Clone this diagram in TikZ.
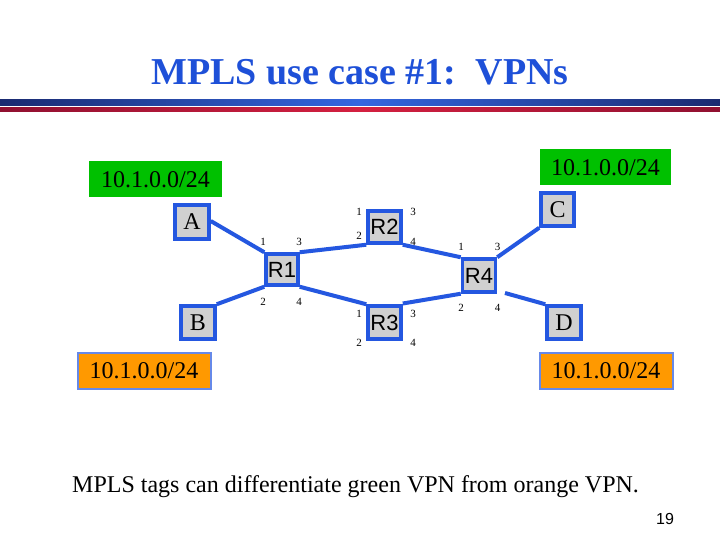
\documentclass[tikz,border=0pt]{standalone}
\usepackage{fontspec}
\setmainfont{Liberation Serif}
\newfontfamily\sansf{Liberation Sans}
\begin{document}
\begin{tikzpicture}[x=1pt,y=-1pt,
  box/.style={draw=netblue,line width=3.5pt,fill=boxgray,inner sep=0pt,font=\fontsize{24}{26}\selectfont},
  rbox/.style={box,font=\sansf\fontsize{22}{24}\selectfont},
  lnk/.style={draw=netblue,line width=4pt},
  port/.style={font=\fontsize{11}{12}\selectfont,inner sep=0pt},
  net/.style={inner sep=0pt,font=\fontsize{24}{26}\selectfont,minimum height=36pt}]
\definecolor{netblue}{HTML}{2457E0}
\definecolor{boxgray}{HTML}{D0D0D0}
\definecolor{gnet}{HTML}{00C000}
\definecolor{onet}{HTML}{FF9900}
\definecolor{titlec}{HTML}{1E50D8}
\definecolor{navy}{HTML}{1A2A70}
\definecolor{brblue}{HTML}{3366E0}
\definecolor{dred}{HTML}{901030}
\definecolor{brred}{HTML}{D42040}
\useasboundingbox (0,0) rectangle (720,540);
\fill[white] (0,0) rectangle (720,540);
\node[font=\bfseries\fontsize{38}{42}\selectfont,text=titlec] (title) at (360,72) {MPLS use case \#1:\ \ VPNs};
\shade[left color=navy,right color=brblue] (0,100) rectangle (360,106);
\shade[left color=brblue,right color=navy] (360,100) rectangle (720,106);
\shade[left color=dred,right color=brred] (0,108) rectangle (360,112);
\shade[left color=brred,right color=dred] (360,108) rectangle (720,112);
% networks
\node[net,fill=gnet,minimum width=133pt] (g1) at (155.5,179.5) {10.1.0.0/24};
\node[net,fill=gnet,minimum width=131pt] (g2) at (605.5,167.5) {10.1.0.0/24};
\node[net,fill=onet,draw=netblue!70,line width=2pt,minimum width=133pt] (o1) at (144,370.5) {10.1.0.0/24};
\node[net,fill=onet,draw=netblue!70,line width=2pt,minimum width=133pt] (o2) at (606,370.5) {10.1.0.0/24};
% boxes
\node[box,minimum width=34pt,minimum height=34pt] (A) at (192,222) {A};
\node[box,minimum width=34pt,minimum height=33pt] (B) at (198,322.5) {B};
\node[box,minimum width=33pt,minimum height=33pt] (C) at (557.5,209.5) {C};
\node[box,minimum width=34pt,minimum height=33pt] (D) at (564,322.5) {D};
\node[rbox,minimum width=32pt,minimum height=31pt] (R1) at (282,269.5) {R1};
\node[rbox,minimum width=33pt,minimum height=32pt] (R2) at (384.5,227) {R2};
\node[rbox,minimum width=33pt,minimum height=33pt] (R3) at (384.5,322.5) {R3};
\node[rbox,minimum width=33pt,minimum height=33pt] (R4) at (479,275.5) {R4};
% links
\coordinate (d0) at (505,293);
\draw[lnk] (A.east) ++(0,-1) -- (R1.north west);
\draw[lnk] (R1.south west) -- (B.north east);
\draw[lnk] (R1.north east) -- (R2.south west);
\draw[lnk] (R1.south east) -- (R3.north west);
\draw[lnk] (R2.south east) -- (R4.north west);
\draw[lnk] (R3.east) ++(0,-19) -- (R4.south west);
\draw[lnk] (R4.north east) -- (C.south west);
\draw[lnk] (d0) -- (D.north west);
% ports
\node[port] (p11) at (263,242) {1};
\node[port] (p13) at (299,242) {3};
\node[port] (p12) at (263,302) {2};
\node[port] (p14) at (299,302) {4};
\node[port] (p21) at (359,212) {1};
\node[port] (p23) at (413,212) {3};
\node[port] (p22) at (359,236) {2};
\node[port] (p24) at (413,242) {4};
\node[port] (p31) at (359,314) {1};
\node[port] (p33) at (413,314) {3};
\node[port] (p32) at (359,343) {2};
\node[port] (p34) at (413,343) {4};
\node[port] (p41) at (461,247) {1};
\node[port] (p43) at (497.5,247) {3};
\node[port] (p42) at (461,308) {2};
\node[port] (p44) at (497.5,308) {4};
% caption
\node[anchor=west,font=\fontsize{24}{26}\selectfont,inner sep=0pt] (cap) at (72,487) {MPLS tags can differentiate green VPN from orange VPN.};
\node[font=\sansf\fontsize{16}{18}\selectfont,inner sep=0pt] (num) at (665,519) {19};
\end{tikzpicture}
\end{document}
